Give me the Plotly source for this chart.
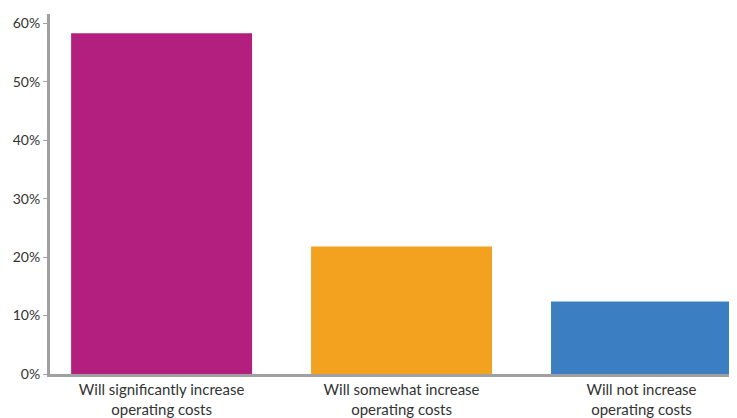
import plotly.graph_objects as go

categories = ["Will significantly increase<br>operating costs",
              "Will somewhat increase<br>operating costs",
              "Will not increase<br>operating costs"]
values = [58.3, 21.8, 12.4]
colors = ["#B31F7E", "#F2A21F", "#3B7EC2"]
tick_vals = [0, 10, 20, 30, 40, 50, 60]
tick_text = ["0%", "10%", "20%", "30%", "40%", "50%", "60%"]

fig = go.Figure(go.Bar(
    x=categories, y=values, marker=dict(color=colors, line=dict(width=0)),
    width=0.754, hoverinfo="skip"))

# page body has an 8px margin, so the figure is offset by (8, 8)
fig.update_layout(
    width=729, height=410,
    margin=dict(l=42, r=0, t=6, b=44),
    paper_bgcolor="white", plot_bgcolor="white",
    font=dict(family="Lato", size=13, color="#333333"),
    showlegend=False,
    xaxis=dict(range=[-0.465, 2.398], showgrid=False, zeroline=False,
               showline=True, linecolor="#A0A0A2", linewidth=3,
               ticks="", tickfont=dict(size=15, color="#333333")),
    yaxis=dict(range=[0, 61.6], tickvals=tick_vals, ticktext=tick_text,
               showgrid=False, zeroline=False, showline=True,
               linecolor="#A0A0A2", linewidth=3, ticks="outside",
               ticklen=4, tickcolor="#A0A0A2", tickwidth=1,
               tickfont=dict(size=14, color="#333333")),
)

fig.write_html("out.html")
